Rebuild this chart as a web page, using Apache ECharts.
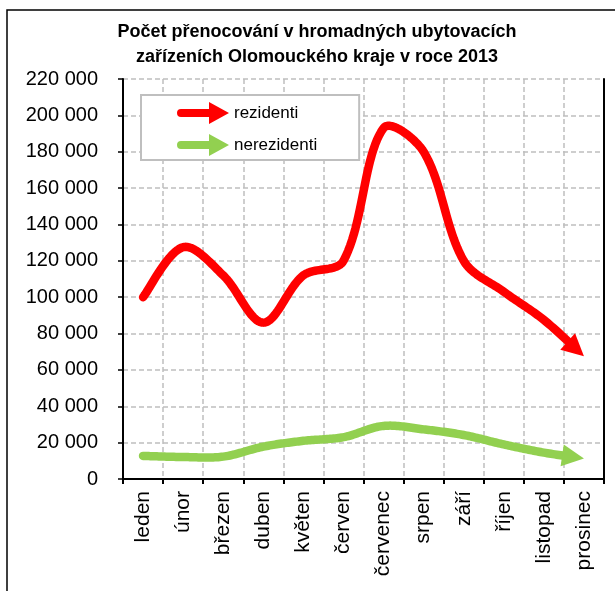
<!DOCTYPE html>
<html>
<head>
<meta charset="utf-8">
<script src="https://cdn.jsdelivr.net/npm/echarts@6/dist/echarts.min.js"></script>
<style>
  html, body { margin: 0; padding: 0; background: #fff; }
  #chart { width: 615px; height: 591px; }
</style>
</head>
<body>
<div id="chart"></div>
<script>
const months = ['leden', 'únor', 'březen', 'duben', 'květen', 'červen', 'červenec', 'srpen', 'září', 'říjen', 'listopad', 'prosinec']
const rezidenti = [100000, 127500, 112000, 86000, 112000, 120000, 193000, 180000, 120000, 103000, 87500, 67500]
const nerezidenti = [12700, 12100, 12300, 17800, 21000, 23000, 29200, 27300, 24200, 19000, 14500, 11300]
const yMin = 0
const yMax = 220000
const yStep = 20000

const font = 'Liberation Sans'
const red = '#ff0000'
const green = '#92d050'
const gridColor = '#bfbfbf'

const fmt = v => String(v).replace(/\B(?=(\d{3})+(?!\d))/g, ' ')

// smoothed line (Excel-like bezier) ending in an arrow head, positions from api.coord
const arrowLine = (name, values, color) => ({
  name,
  type: 'custom',
  z: 4,
  itemStyle: { color },
  data: values.map((v, i) => [i, v]),
  renderItem: (params, api) => {
    if (params.dataIndex !== 0) return null
    const p = values.map((v, i) => api.coord([i, v]))
    const n = p.length
    const dist = (a, b) => Math.hypot(b[0] - a[0], b[1] - a[1])
    // control offsets per point: [inVector, outVector]
    const ctl = p.map((c, i) => {
      const prev = p[i - 1], next = p[i + 1]
      if (!prev) return [null, [(next[0] - c[0]) / 6, (next[1] - c[1]) / 6]]
      if (!next) return [[(c[0] - prev[0]) / 6, (c[1] - prev[1]) / 6], null]
      const lp = dist(prev, c), ln = dist(c, next)
      const dx = next[0] - prev[0], dy = next[1] - prev[1]
      const dl = Math.hypot(dx, dy)
      const s = dl / (lp + ln) / 3
      const ux = dx / dl, uy = dy / dl
      return [[ux * lp * s, uy * lp * s], [ux * ln * s, uy * ln * s]]
    })
    const pts = []
    for (let i = 0; i < n - 1; i++) {
      const a = p[i], b = p[i + 1]
      const c1 = [a[0] + ctl[i][1][0], a[1] + ctl[i][1][1]]
      const c2 = [b[0] - ctl[i + 1][0][0], b[1] - ctl[i + 1][0][1]]
      for (let k = 0; k < 24; k++) {
        const t = k / 24, u = 1 - t
        pts.push([
          u * u * u * a[0] + 3 * u * u * t * c1[0] + 3 * u * t * t * c2[0] + t * t * t * b[0],
          u * u * u * a[1] + 3 * u * u * t * c1[1] + 3 * u * t * t * c2[1] + t * t * t * b[1]
        ])
      }
    }
    const tip = p[n - 1]
    const dx = tip[0] - p[n - 2][0], dy = tip[1] - p[n - 2][1]
    const len = Math.sqrt(dx * dx + dy * dy)
    const ux = dx / len, uy = dy / len
    const shaft = pts.filter(q => dist(q, tip) > 12)
    shaft.push([tip[0] - ux * 12, tip[1] - uy * 12])
    const base = [tip[0] - ux * 22, tip[1] - uy * 22]
    const px = -uy * 11, py = ux * 11
    return {
      type: 'group',
      children: [
        {
          type: 'polyline',
          shape: { points: shaft },
          style: { stroke: color, lineWidth: 8.5, fill: null, lineCap: 'round', lineJoin: 'round' }
        },
        {
          type: 'polygon',
          shape: { points: [tip, [base[0] + px, base[1] + py], [base[0] - px, base[1] - py]] },
          style: { fill: color }
        }
      ]
    }
  }
})

const arrowIcon = 'path://M4,7 L32,7 L32,0 L52,11 L32,22 L32,15 L4,15 A4,4 0 0 1 4,7 Z'

const chart = echarts.init(document.getElementById('chart'))

chart.setOption({
  backgroundColor: '#fff',
  animation: false,
  textStyle: { fontFamily: font },
  title: {
    text: 'Počet přenocování v hromadných ubytovacích\nzařízeních Olomouckého kraje v roce 2013',
    left: 312,
    top: 15,
    textAlign: 'center',
    textStyle: { fontFamily: font, fontSize: 18, fontWeight: 'bold', color: '#000', lineHeight: 25 }
  },
  graphic: [
    {
      type: 'rect',
      shape: { x: 7, y: 10, width: 800, height: 800 },
      style: { fill: 'none', stroke: '#000', lineWidth: 1.5 },
      silent: true
    }
  ],
  legend: {
    left: 141,
    top: 95,
    orient: 'vertical',
    itemWidth: 52,
    itemHeight: 22,
    itemGap: 10,
    padding: [7, 42, 4, 36],
    backgroundColor: '#fff',
    borderColor: gridColor,
    borderWidth: 2,
    textStyle: { fontFamily: font, fontSize: 17, color: '#000' },
    data: [
      { name: 'rezidenti', icon: arrowIcon },
      { name: 'nerezidenti', icon: arrowIcon }
    ]
  },
  grid: { left: 123, right: 11, top: 79, bottom: 112 },
  xAxis: {
    type: 'category',
    data: months,
    boundaryGap: true,
    axisLine: { lineStyle: { color: '#000', width: 2 } },
    axisTick: { show: true, length: 5, lineStyle: { color: '#000', width: 2 } },
    axisLabel: { rotate: 90, interval: 0, margin: 12, fontFamily: font, fontSize: 21, color: '#000' },
    splitLine: { show: true, interval: 0, lineStyle: { color: gridColor, type: [5, 3], width: 1.5 } }
  },
  yAxis: [
    {
      type: 'value',
      min: yMin,
      max: yMax,
      interval: yStep,
      axisLine: { show: true, lineStyle: { color: '#000', width: 2 } },
      axisTick: { show: true, length: 5, lineStyle: { color: '#000', width: 1.5 } },
      axisLabel: { margin: 25, fontFamily: font, fontSize: 20, color: '#000', formatter: fmt },
      splitLine: { show: true, lineStyle: { color: gridColor, type: [5, 3], width: 1.5 } }
    },
    {
      type: 'value',
      position: 'right',
      min: yMin,
      max: yMax,
      interval: yStep,
      axisLine: { show: true, lineStyle: { color: '#000', width: 2 } },
      axisTick: { show: false },
      axisLabel: { show: false },
      splitLine: { show: false }
    }
  ],
  series: [
    arrowLine('rezidenti', rezidenti, red),
    arrowLine('nerezidenti', nerezidenti, green)
  ]
})

window.addEventListener('resize', () => chart.resize())
</script>
</body>
</html>
